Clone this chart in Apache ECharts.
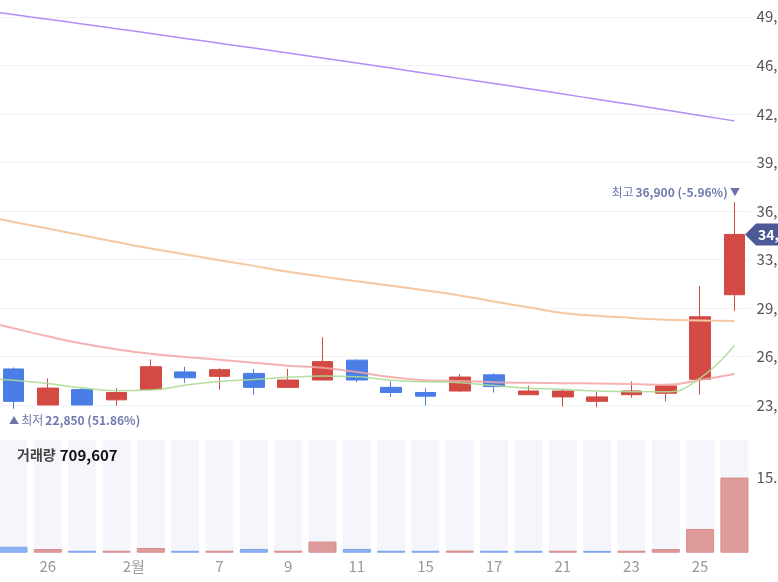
<!DOCTYPE html>
<html><head><meta charset="utf-8">
<script src="https://cdn.jsdelivr.net/npm/echarts@6/dist/echarts.min.js"></script>
<style>html,body{margin:0;padding:0;background:#fff}#c{width:778px;height:582px}</style>
</head><body><div id="c"></div>
<script>
// ---- data (first entry is the partly scrolled-out day before the view) ----
const dates = ['2022-01-24','2022-01-25','2022-01-26','2022-01-27','2022-01-28','2022-02-03','2022-02-04','2022-02-07','2022-02-08','2022-02-09','2022-02-10','2022-02-11','2022-02-14','2022-02-15','2022-02-16','2022-02-17','2022-02-18','2022-02-21','2022-02-22','2022-02-23','2022-02-24','2022-02-25','2022-02-28'];
const tickLabels = ['', '', '26', '', '', '2월', '', '7', '', '9', '', '11', '', '15', '', '17', '', '21', '', '23', '', '25', ''];
const openP  = ['-', 25550, 23100, 24150, 23450, 24150, 25350, 25050, 25250, 24300, 24800, 26150, 24300, 23950, 24050, 25150, 23800, 23650, 23350, 23800, 23900, 24850, 30600];
const closeP = ['-', 23350, 24250, 23100, 23950, 25700, 24950, 25500, 24300, 24800, 26050, 24800, 23950, 23700, 25000, 24350, 24050, 24050, 23650, 24050, 24400, 29100, 34700];
const highP  = ['-', 25650, 24900, 24300, 24250, 26200, 25700, 25600, 25550, 25550, 27700, 26200, 24700, 24250, 25200, 25250, 24400, 24150, 24000, 24700, 24500, 31200, 36900];
const lowP   = ['-', 22850, 23100, 23100, 23050, 24100, 24600, 24150, 23800, 24300, 24800, 24650, 23650, 23050, 24000, 23950, 23800, 23000, 22950, 23600, 23350, 23800, 29500];
const volume = ['-', 1200000, 740000, 390000, 400000, 950000, 380000, 400000, 760000, 410000, 2250000, 760000, 400000, 380000, 420000, 390000, 380000, 410000, 370000, 400000, 750000, 4780000, 15200000];
const ma5   = [24950, 24780, 24560, 24270, 24070, 24120, 24440, 24690, 24830, 24980, 25070, 25020, 24790, 24680, 24620, 24420, 24240, 24170, 24050, 24000, 24000, 24920, 27160];
const ma20  = [28880, 28320, 27770, 27280, 26890, 26580, 26360, 26170, 25970, 25770, 25630, 25340, 25000, 24790, 24730, 24650, 24610, 24580, 24560, 24520, 24470, 24800, 25210];
const ma60  = [36010, 35550, 35100, 34640, 34180, 33740, 33340, 32950, 32560, 32160, 31830, 31520, 31210, 30890, 30550, 30140, 29740, 29360, 29170, 29020, 28890, 28850, 28810];
const ma120 = [49970, 49650, 49330, 49010, 48690, 48360, 48030, 47700, 47370, 47030, 46690, 46350, 46010, 45660, 45310, 44960, 44610, 44250, 43890, 43530, 43160, 42790, 42420];
const priceTicks = [19800, 23100, 26400, 29700, 33000, 36300, 39600, 42900, 46200, 49500];
const volumeText = '709,607';

// ---- derived ----
const RED = '#d24a43', BLUE = '#4a7ee6';
const FONT = "'Noto Sans CJK KR', 'Noto Sans', sans-serif";
const candles = dates.map((d, i) => openP[i] === '-' ? '-' : [openP[i], closeP[i], lowP[i], highP[i]]);
const idx = dates.map((d, i) => i).filter(i => openP[i] !== '-');
const last = idx[idx.length - 1];
const cur = closeP[last];
let hiIdx = idx[0], loIdx = idx[0];
idx.forEach(i => { if (highP[i] > highP[hiIdx]) hiIdx = i; if (lowP[i] < lowP[loIdx]) loIdx = i; });
const fmt = v => v.toLocaleString('en-US');
const hiPct = ((cur - highP[hiIdx]) / highP[hiIdx] * 100).toFixed(2);
const loPct = ((cur - lowP[loIdx]) / lowP[loIdx] * 100).toFixed(2);
const volBars = volume.map((v, i) => {
  if (v === '-') return '-';
  const ref = (i === idx[0]) ? openP[i] : closeP[i - 1];
  const up = closeP[i] >= ref;
  return { value: v, itemStyle: { color: up ? '#df9b9b' : '#8fb2f2', borderColor: up ? '#d98a8a' : '#7aa3ee', borderWidth: 1 } };
});
const volMax = Math.max(...volume.filter(v => v !== '-'));

const GL = -38, GR = 26.4;
const chart = echarts.init(document.getElementById('c'), null, { renderer: 'canvas' });
chart.setOption({
  animation: false,
  textStyle: { fontFamily: FONT },
  title: {
    left: 12, top: 441,
    text: '{a|거래량} {b|' + volumeText + '}',
    textStyle: { rich: {
      a: { fontFamily: FONT, fontSize: 14, color: '#444' },
      b: { fontFamily: FONT, fontSize: 15, fontWeight: 'bold', color: '#111' }
    } }
  },
  grid: [
    { left: GL, right: GR, top: 0, bottom: 128.47, outerBoundsMode: 'none', containLabel: false },
    { left: GL, right: GR, top: 440, bottom: 29.3, outerBoundsMode: 'none', containLabel: false }
  ],
  xAxis: [
    { type: 'category', gridIndex: 0, data: dates, boundaryGap: true, show: false },
    { type: 'category', gridIndex: 1, data: dates, boundaryGap: true,
      axisLine: { show: false }, axisTick: { show: false }, splitLine: { show: false },
      axisLabel: { interval: 0, color: '#999', fontSize: 15, margin: 6, fontFamily: FONT,
        formatter: (v, i) => { const t = tickLabels[i]; return t.endsWith('월') ? '{m|' + t + '}' : t; },
        rich: { m: { color: '#999', fontSize: 15, fontFamily: FONT, padding: [0, 34, 0, 0] } } } }
  ],
  yAxis: [
    { type: 'value', gridIndex: 0, position: 'right', min: priceTicks[0], max: 50640,
      interval: priceTicks[1] - priceTicks[0],
      axisLine: { show: false }, axisTick: { show: false },
      splitLine: { show: true, showMaxLine: false, showMinLine: false, lineStyle: { color: '#f3f3f6', width: 1 } },
      axisLabel: { color: '#555', fontSize: 15, margin: 5, showMaxLabel: false, showMinLabel: false, fontFamily: FONT, formatter: v => fmt(v) } },
    { type: 'value', gridIndex: 1, position: 'right', min: 0, max: volMax * 1.5, interval: volMax,
      axisLine: { show: false }, axisTick: { show: false }, splitLine: { show: false },
      axisLabel: { color: '#555', fontSize: 15, margin: 5, fontFamily: FONT, showMaxLabel: false, showMinLabel: false,
        formatter: v => (v > 0 && v < volMax * 1.5) ? (v / 1e6).toFixed(1) + 'M' : '' } }
  ],
  series: [
    { type: 'candlestick', xAxisIndex: 0, yAxisIndex: 0, data: candles, barWidth: 21, clip: false,
      itemStyle: { color: RED, color0: BLUE, borderColor: RED, borderColor0: BLUE, borderWidth: 1 },
      markPoint: {
        symbol: 'circle', symbolSize: 1, itemStyle: { color: 'rgba(0,0,0,0)' }, silent: true,
        data: [
          { coord: [dates[hiIdx], highP[hiIdx]],
            label: { show: true, position: [6, -9], align: 'right', verticalAlign: 'middle',
              formatter: '{t|최고}{v|' + fmt(highP[hiIdx]) + ' (' + hiPct + '%)}{a| ▼}',
              rich: { t: { color: '#7079ae', fontSize: 12, fontFamily: FONT, padding: [0, 2, 0, 0] },
                      v: { color: '#7079ae', fontSize: 12, fontWeight: 'bold', fontFamily: FONT },
                      a: { color: '#6a73aa', fontSize: 10, fontFamily: FONT } } } },
          { coord: [dates[loIdx], lowP[loIdx]],
            label: { show: true, position: [-4, 12], align: 'left', verticalAlign: 'middle',
              formatter: '{a|▲ }{t|최저}{v|' + fmt(lowP[loIdx]) + ' (' + loPct + '%)}',
              rich: { t: { color: '#7079ae', fontSize: 12, fontFamily: FONT, padding: [0, 2, 0, 0] },
                      v: { color: '#7079ae', fontSize: 12, fontWeight: 'bold', fontFamily: FONT },
                      a: { color: '#6a73aa', fontSize: 10, fontFamily: FONT } } } },
          { coord: [dates[last], cur], symbol: 'path://M0,11 L11,0 L60,0 L60,22 L11,22 Z',
            symbolSize: [60, 22], symbolOffset: [40.6, 0], itemStyle: { color: '#4b5a96' },
            label: { show: true, position: [13, 11], align: 'left', verticalAlign: 'middle',
              formatter: fmt(cur), color: '#fff', fontSize: 14, fontWeight: 'bold', fontFamily: FONT } }
        ]
      } },
    { type: 'line', xAxisIndex: 0, yAxisIndex: 0, data: ma120, smooth: true, symbol: 'none', lineStyle: { color: '#b38cf6', width: 1.5 } },
    { type: 'line', xAxisIndex: 0, yAxisIndex: 0, data: ma60, smooth: true, symbol: 'none', lineStyle: { color: '#f5c8a2', width: 2 } },
    { type: 'line', xAxisIndex: 0, yAxisIndex: 0, data: ma20, smooth: true, symbol: 'none', lineStyle: { color: '#f2a5a5', width: 2, opacity: 0.85 } },
    { type: 'line', xAxisIndex: 0, yAxisIndex: 0, data: ma5, smooth: true, symbol: 'none', lineStyle: { color: '#abdc95', width: 1.5, opacity: 0.9 } },
    { type: 'bar', xAxisIndex: 1, yAxisIndex: 1, data: volBars, barWidth: 28,
      showBackground: true, backgroundStyle: { color: '#f5f6fb' } }
  ]
});
</script></body></html>
